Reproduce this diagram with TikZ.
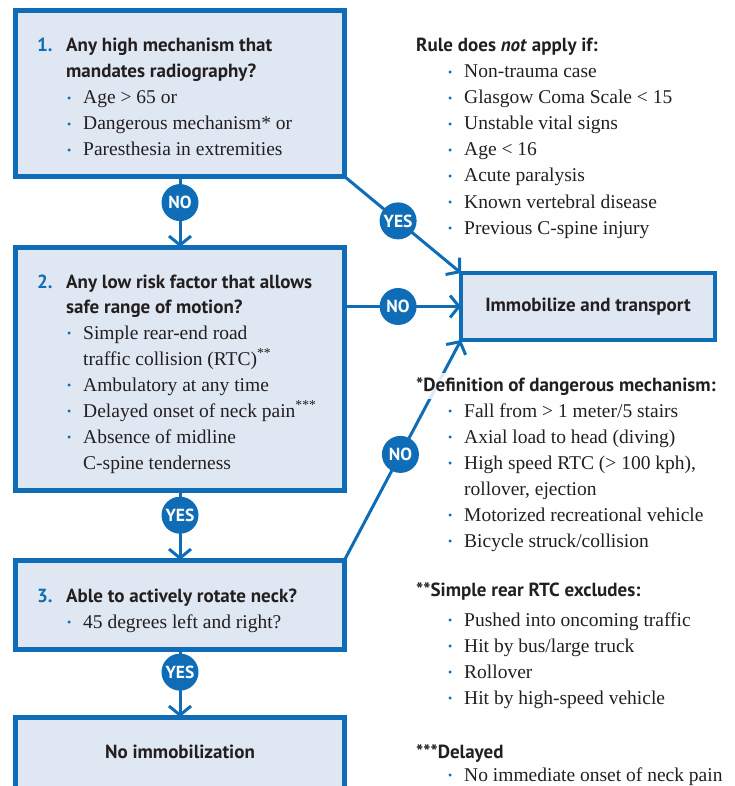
\documentclass[tikz,border=0pt]{standalone}
\usepackage{fontspec}
\setmainfont{Liberation Serif}
\newfontfamily\hdfont{PT Sans}
\usetikzlibrary{arrows.meta}
\definecolor{cblue}{HTML}{0F6DB8}
\definecolor{cfill}{HTML}{DFE7F2}
\definecolor{ctext}{HTML}{231F20}
\newcommand{\bdot}{\makebox[16pt][l]{\raisebox{1.5pt}{\textcolor{cblue}{\fontsize{12}{12}\selectfont\textbullet}}}}
\newcommand{\bgap}{\hspace*{16pt}}
\tikzset{
  box/.style={draw=cblue, line width=5pt, fill=cfill, outer sep=0pt, inner sep=0pt, anchor=north west},
  conn/.style={draw=cblue, line width=3pt, -{Straight Barb[length=9pt,width=22pt]}},
  badge/.style={circle, fill=cblue, text=white, minimum size=37pt, inner sep=0pt, font=\hdfont\bfseries\fontsize{17.5}{17.5}\selectfont},
  hd/.style={anchor=base west, inner sep=0pt, font=\hdfont\bfseries\fontsize{19}{19}\selectfont, text=ctext},
  bl/.style={anchor=base west, inner sep=0pt, font=\fontsize{19.5}{19.5}\selectfont, text=ctext},
}
\begin{document}
\begin{tikzpicture}[x=1pt,y=-1pt]
\path[use as bounding box, clip] (0,0) rectangle (734,786);
% boxes
\node[box, minimum width=329pt, minimum height=166pt] (q1) at (15.5,10.5) {};
\node[box, minimum width=329pt, minimum height=243pt] (q2) at (15.5,247) {};
\node[box, minimum width=329pt, minimum height=89pt] (q3) at (15.5,560) {};
\node[box, minimum width=329pt, minimum height=100pt] (q4) at (15.5,717) {};
\node[box, line width=4pt, minimum width=254pt, minimum height=67pt, font=\hdfont\bfseries\fontsize{19}{19}\selectfont, text=ctext] (im) at (461,273) {Immobilize and transport};
% connectors
\draw[conn] (q1.south) -- node[badge, pos=0.37] (n1) {NO} (q2.north);
\draw[conn] (q2.south) -- node[badge, pos=0.36] (y2) {YES} (q3.north);
\draw[conn] (q3.south) -- node[badge, pos=0.34] (y3) {YES} (q4.north);
\draw[conn] (q1.south east) -- node[badge, pos=0.46] (y1) {YES} (im.north west);
\draw[conn] (im.west -| q2.east) -- node[badge, pos=0.46] (n2) {NO} (im.west);
\draw[conn] (q3.north east) -- node[badge, pos=0.48] (n3) {NO} (im.south west);
% box 1
\node[hd, text=cblue] (q1n) at (37,52) {1.};
\node[hd] (q1a) at (66,52) {Any high mechanism that};
\node[hd] (q1b) at (66,78) {mandates radiography?};
\node[bl] (q1c) at (67,104) {\bdot Age > 65 or};
\node[bl] (q1d) at (67,130) {\bdot Dangerous mechanism* or};
\node[bl] (q1e) at (67,156) {\bdot Paresthesia in extremities};
% box 2
\node[hd, text=cblue] (q2n) at (37,288) {2.};
\node[hd] (q2a) at (66,288) {Any low risk factor that allows};
\node[hd] (q2b) at (66,313) {safe range of motion?};
\node[bl] (q2c) at (67,339) {\bdot Simple rear-end road};
\node[bl] (q2d) at (67,365) {\bgap traffic collision (RTC)\textsuperscript{**}};
\node[bl] (q2e) at (67,391) {\bdot Ambulatory at any time};
\node[bl] (q2f) at (67,417) {\bdot Delayed onset of neck pain\textsuperscript{***}};
\node[bl] (q2g) at (67,443) {\bdot Absence of midline};
\node[bl] (q2h) at (67,469) {\bgap C-spine tenderness};
% box 3
\node[hd, text=cblue] (q3n) at (37,602) {3.};
\node[hd] (q3a) at (66,602) {Able to actively rotate neck?};
\node[bl] (q3b) at (67,628) {\bdot 45 degrees left and right?};
% box 4
\node[hd, anchor=base] (q4a) at (180,758) {No immobilization};
% right column
\node[hd] (r0) at (416,52) {Rule does \textit{not} apply if:};
\node[bl] (r1) at (448,78) {\bdot Non-trauma case};
\node[bl] (r2) at (448,104) {\bdot Glasgow Coma Scale < 15};
\node[bl] (r3) at (448,130) {\bdot Unstable vital signs};
\node[bl] (r4) at (448,156) {\bdot Age < 16};
\node[bl] (r5) at (448,182) {\bdot Acute paralysis};
\node[bl] (r6) at (448,208) {\bdot Known vertebral disease};
\node[bl] (r7) at (448,234) {\bdot Previous C-spine injury};
\node[hd, fill=white, fill opacity=0.85, text opacity=1, inner xsep=3pt, inner ysep=4pt] (d0) at (413,391) {*Definition of dangerous mechanism:};
\node[bl] (d1) at (448,417) {\bdot Fall from > 1 meter/5 stairs};
\node[bl] (d2) at (448,443) {\bdot Axial load to head (diving)};
\node[bl] (d3) at (448,469) {\bdot High speed RTC (> 100 kph),};
\node[bl] (d4) at (448,495) {\bgap rollover, ejection};
\node[bl] (d5) at (448,521) {\bdot Motorized recreational vehicle};
\node[bl] (d6) at (448,547) {\bdot Bicycle struck/collision};
\node[hd] (s0) at (416,596) {**Simple rear RTC excludes:};
\node[bl] (s1) at (448,626) {\bdot Pushed into oncoming traffic};
\node[bl] (s2) at (448,652) {\bdot Hit by bus/large truck};
\node[bl] (s3) at (448,678) {\bdot Rollover};
\node[bl] (s4) at (448,704) {\bdot Hit by high-speed vehicle};
\node[hd] (e0) at (416,758) {***Delayed};
\node[bl] (e1) at (448,781) {\bdot No immediate onset of neck pain};
\end{tikzpicture}
\end{document}
